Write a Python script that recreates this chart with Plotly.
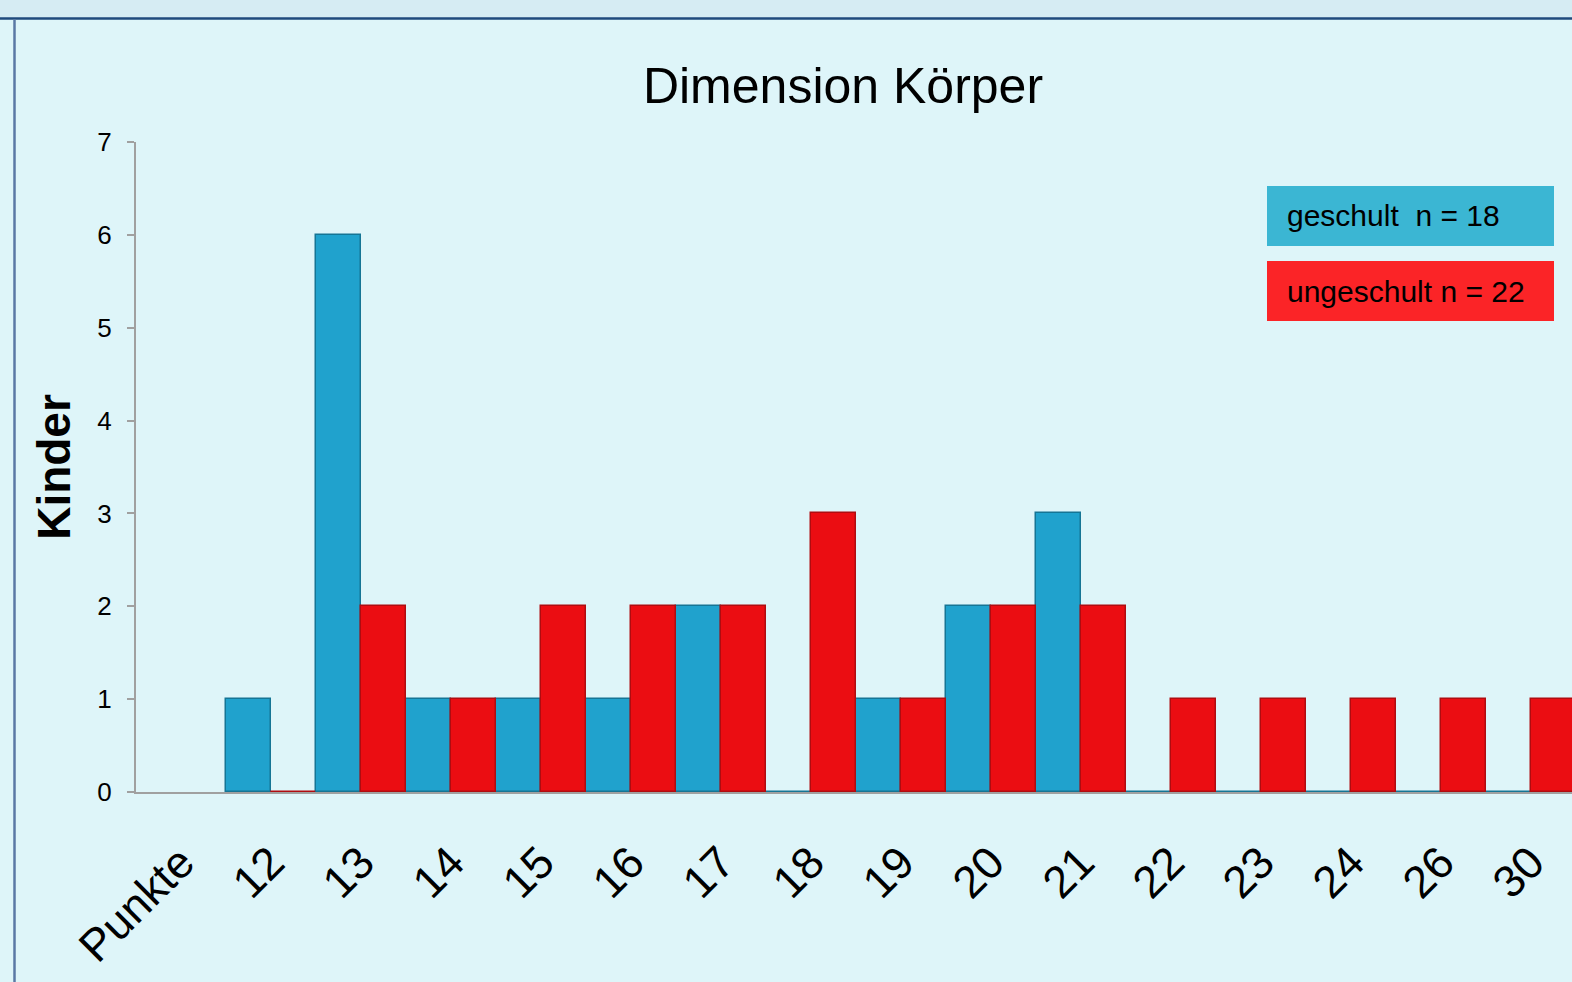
import plotly.graph_objects as go

categories = ["Punkte", "12", "13", "14", "15", "16", "17", "18", "19", "20", "21", "22", "23", "24", "26", "30"]
geschult = [None, 1, 6, 1, 1, 1, 2, 0, 1, 2, 3, 0, 0, 0, 0, 0]
ungeschult = [None, 0, 2, 1, 2, 2, 2, 3, 1, 2, 2, 1, 1, 1, 1, 1]
series_names = ["geschult  n = 18", "ungeschult n = 22"]
y_ticks = [0, 1, 2, 3, 4, 5, 6, 7]

W, H = 1572, 982
L, R, T, B = 136, 0, 142, 190
PW, PH = W - L - R, H - T - B

def px(x):
    return (x - L) / PW

def py(y):
    return (H - B - y) / PH

BG = "#def5f9"
BLUE = "#20a2cd"
RED = "#eb0d12"

fig = go.Figure()
fig.add_trace(go.Bar(x=categories, y=geschult, name=series_names[0],
                     marker=dict(color=BLUE, line=dict(color="#157595", width=1.5))))
fig.add_trace(go.Bar(x=categories, y=ungeschult, name=series_names[1],
                     marker=dict(color=RED, line=dict(color="#b00c10", width=1.5))))

shapes = [
    dict(type="rect", xref="paper", yref="paper", x0=px(-5), x1=px(W + 5), y0=py(0 - 5), y1=py(18),
         fillcolor="#d6ecf3", line=dict(width=0), layer="below"),
    dict(type="line", xref="paper", yref="paper", x0=px(0), x1=px(W + 5), y0=py(18.5), y1=py(18.5),
         line=dict(color="#1f4a7c", width=2.5)),
    dict(type="line", xref="paper", yref="paper", x0=px(14.5), x1=px(14.5), y0=py(19), y1=py(H + 5),
         line=dict(color="#5a78a5", width=2.5)),
    dict(type="rect", xref="paper", yref="paper", x0=px(1267), x1=px(1554), y0=py(186), y1=py(246),
         fillcolor="#3bb6d3", line=dict(width=0)),
    dict(type="rect", xref="paper", yref="paper", x0=px(1267), x1=px(1554), y0=py(261), y1=py(321),
         fillcolor="#fb2427", line=dict(width=0)),
]

annotations = [
    dict(text=series_names[0], xref="paper", yref="paper", x=px(1285), y=py(215), xanchor="left",
         yanchor="middle", showarrow=False, font=dict(size=30, color="black", family="Liberation Sans")),
    dict(text=series_names[1], xref="paper", yref="paper", x=px(1285), y=py(291), xanchor="left",
         yanchor="middle", showarrow=False, font=dict(size=30, color="black", family="Liberation Sans")),
]

fig.update_layout(
    width=W, height=H,
    margin=dict(l=L, r=R, t=T, b=B, pad=0),
    paper_bgcolor=BG, plot_bgcolor=BG,
    barmode="group", bargap=0, bargroupgap=0,
    showlegend=False,
    title=dict(text="Dimension Körper", x=843 / W, xanchor="center", y=1 - 85 / H, yanchor="middle",
               font=dict(size=50, color="black", family="Liberation Sans")),
    font=dict(family="Liberation Sans", color="black"),
    xaxis=dict(type="category", range=[-0.5, -0.5 + PW / 90.0], showgrid=False, showline=True,
               linecolor="#a0a0a0", linewidth=2, ticks="", tickangle=-45, layer="below traces",
               tickfont=dict(size=45, color="black"), zeroline=False, fixedrange=True,
               ticklabelstandoff=24),
    yaxis=dict(range=[0, 7], tickvals=y_ticks, showgrid=False, showline=True, linecolor="#a0a0a0",
               linewidth=2, ticks="outside", ticklen=7, tickcolor="#a0a0a0", tickwidth=2,
               tickfont=dict(size=26, color="black"), zeroline=False, ticklabelstandoff=10,
               layer="below traces",
               title=dict(text="<b>Kinder</b>", font=dict(size=46, color="black"), standoff=12)),
    shapes=shapes,
    annotations=annotations,
)

fig.write_html("out.html", config={"displayModeBar": False},
               post_script="document.body.style.margin='0';document.body.style.overflow='hidden';")
